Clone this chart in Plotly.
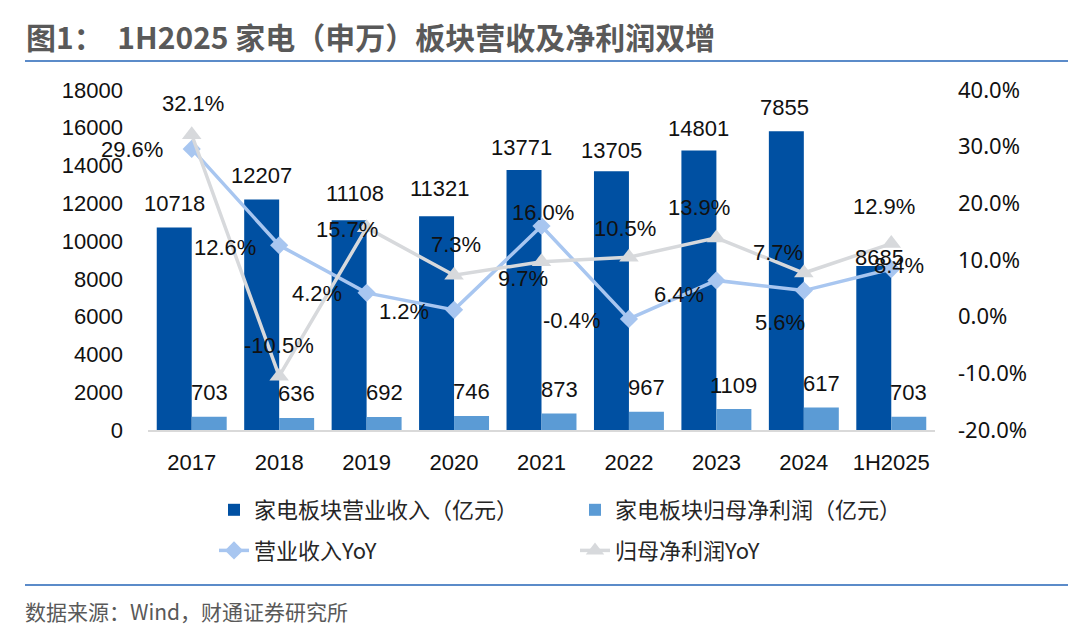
import plotly.graph_objects as go

# ---- data ----
categories = ["2017", "2018", "2019", "2020", "2021", "2022", "2023", "2024", "1H2025"]
revenue = [10718, 12207, 11108, 11321, 13771, 13705, 14801, 15820, 8685]
revenue_labels = ["10718", "12207", "11108", "11321", "13771", "13705", "14801", "7855", "8685"]
profit = [703, 636, 692, 746, 873, 967, 1109, 1190, 703]
profit_labels = ["703", "636", "692", "746", "873", "967", "1109", "617", "703"]
revenue_yoy = [29.6, 12.6, 4.2, 1.2, 16.0, -0.4, 6.4, 4.6, 8.4]
revenue_yoy_labels = ["29.6%", "12.6%", "4.2%", "1.2%", "16.0%", "-0.4%", "6.4%", "5.6%", "8.4%"]
profit_yoy = [32.1, -10.5, 15.7, 7.3, 9.7, 10.5, 13.9, 7.7, 12.9]
profit_yoy_labels = ["32.1%", "-10.5%", "15.7%", "7.3%", "9.7%", "10.5%", "13.9%", "7.7%", "12.9%"]
right_ticks = [-20, -10, 0, 10, 20, 30, 40]
right_tick_labels = ["-20.0%", "-10.0%", "0.0%", "10.0%", "20.0%", "30.0%", "40.0%"]

# label nudges (px): (dx, dy) with dy up
rev_bar_nudge = [(0, 24), (0, 24), (6, 27), (3, 28), (-3, 22), (0, 21), (0, 22), (-2, 24), (6, 8)]
rev_yoy_nudge = [(-60, -1), (-54, -2), (-50, -1), (-50, -2), (1, 14), (-57, -2), (-37, -14), (-24, -32), (8, 4)]
profit_yoy_nudge = [(1, 31), (0, 31), (-20, -2), (2, 31), (-19, -17), (-4, 29), (-17, 30), (-26, 21), (-7, 37)]

DARK = "#0050A2"
LIGHT = "#5B9BD5"
REV_LINE = "#A8C6F0"
PROFIT_LINE = "#D7D9DC"
NUM_FONT = "Liberation Sans, Arial, sans-serif"
CJK_FONT = "Noto Sans CJK SC, sans-serif"

W, H = 1080, 627
L, R, T, B = 148, 145, 90, 197


def px(x):
    return (x - L) / (W - L - R)


def py(y):
    return (H - B - y) / (H - T - B)


fig = go.Figure()
fig.add_trace(go.Bar(x=categories, y=revenue, name="家电板块营业收入（亿元）",
                     marker=dict(color=DARK, line_width=0), legend="legend",
                     legendgroup="a", hoverinfo="skip"))
fig.add_trace(go.Bar(x=categories, y=profit, name="家电板块归母净利润（亿元）",
                     marker=dict(color=LIGHT, line_width=0), legend="legend2",
                     legendgroup="c", hoverinfo="skip"))
fig.add_trace(go.Scatter(x=categories, y=revenue_yoy, yaxis="y2", mode="lines+markers",
                         name="营业收入YoY", line=dict(color=REV_LINE, width=3.5),
                         marker=dict(symbol="diamond", size=14, color=REV_LINE),
                         legend="legend", legendgroup="b", hoverinfo="skip"))
fig.add_trace(go.Scatter(x=categories, y=profit_yoy, yaxis="y2", mode="lines+markers",
                         name="归母净利润YoY", line=dict(color=PROFIT_LINE, width=3.5),
                         marker=dict(symbol="triangle-up", size=17, color=PROFIT_LINE),
                         legend="legend2", legendgroup="d", hoverinfo="skip"))

# annotations on a category axis take the category index as x
ann = []
lab_font = dict(family=NUM_FONT, size=22, color="#111111")
for i, (v, t, (dx, dy)) in enumerate(zip(revenue, revenue_labels, rev_bar_nudge)):
    ann.append(dict(x=i, y=v, xref="x", yref="y", text=t, showarrow=False,
                    xshift=-17.5 + dx, yshift=dy, font=lab_font))
for i, (v, t) in enumerate(zip(profit, profit_labels)):
    ann.append(dict(x=i, y=v, xref="x", yref="y", text=t, showarrow=False,
                    xshift=17.5, yshift=24, font=lab_font))
for i, (v, t, (dx, dy)) in enumerate(zip(revenue_yoy, revenue_yoy_labels, rev_yoy_nudge)):
    ann.append(dict(x=i, y=v, xref="x", yref="y2", text=t, showarrow=False,
                    xshift=dx, yshift=dy, font=lab_font))
for i, (v, t, (dx, dy)) in enumerate(zip(profit_yoy, profit_yoy_labels, profit_yoy_nudge)):
    ann.append(dict(x=i, y=v, xref="x", yref="y2", text=t, showarrow=False,
                    xshift=dx, yshift=dy, font=lab_font))

# title and source
ann.append(dict(x=px(24), y=py(36), xref="paper", yref="paper", xanchor="left",
                yanchor="middle", showarrow=False,
                text="图1：  1H2025 家电（申万）板块营收及净利润双增",
                font=dict(family=CJK_FONT, size=30, color="#595959", weight="bold")))
ann.append(dict(x=px(23), y=py(611), xref="paper", yref="paper", xanchor="left",
                yanchor="middle", showarrow=False,
                text="数据来源：Wind，财通证券研究所",
                font=dict(family=CJK_FONT, size=21, color="#595959")))

shapes = [
    dict(type="line", xref="paper", yref="paper", x0=px(25), x1=px(1068),
         y0=py(61), y1=py(61), line=dict(color="#5B8BC9", width=2)),
    dict(type="line", xref="paper", yref="paper", x0=px(25), x1=px(1068),
         y0=py(585), y1=py(585), line=dict(color="#5B8BC9", width=2)),
]

legend_style = dict(orientation="v", traceorder="grouped", tracegroupgap=9,
                    font=dict(family=CJK_FONT, size=22, color="#262626"),
                    bgcolor="rgba(0,0,0,0)", yanchor="top", xanchor="left",
                    itemclick=False, itemdoubleclick=False)

fig.update_layout(
    width=W, height=H,
    margin=dict(l=L, r=R, t=T, b=B),
    paper_bgcolor="white", plot_bgcolor="white",
    barmode="group", bargap=0.2, bargroupgap=0,
    showlegend=True, hovermode=False,
    legend=dict(x=px(214), y=py(489), **legend_style),
    legend2=dict(x=px(575), y=py(489), **legend_style),
    xaxis=dict(type="category", range=[-0.5, len(categories) - 0.5], showgrid=False,
               showline=True, linecolor="#D9D9D9", linewidth=2, ticks="",
               tickfont=dict(family=NUM_FONT, size=22, color="#111111"),
               ticklabelstandoff=12),
    yaxis=dict(range=[0, 18000], dtick=2000, tickformat="d", showgrid=False,
               zeroline=False, showline=False, ticks="",
               tickfont=dict(family=NUM_FONT, size=22, color="#111111"),
               ticklabelstandoff=24),
    yaxis2=dict(range=[-20, 40], overlaying="y", side="right",
                tickmode="array", tickvals=right_ticks, ticktext=right_tick_labels,
                showgrid=False, zeroline=False, showline=False, ticks="",
                tickfont=dict(family="Noto Sans, sans-serif", size=22, color="#111111"),
                ticklabelstandoff=22),
    annotations=ann,
    shapes=shapes,
)

fig.write_html("out.html", config={"displayModeBar": False},
               post_script="document.body.style.margin='0';")
